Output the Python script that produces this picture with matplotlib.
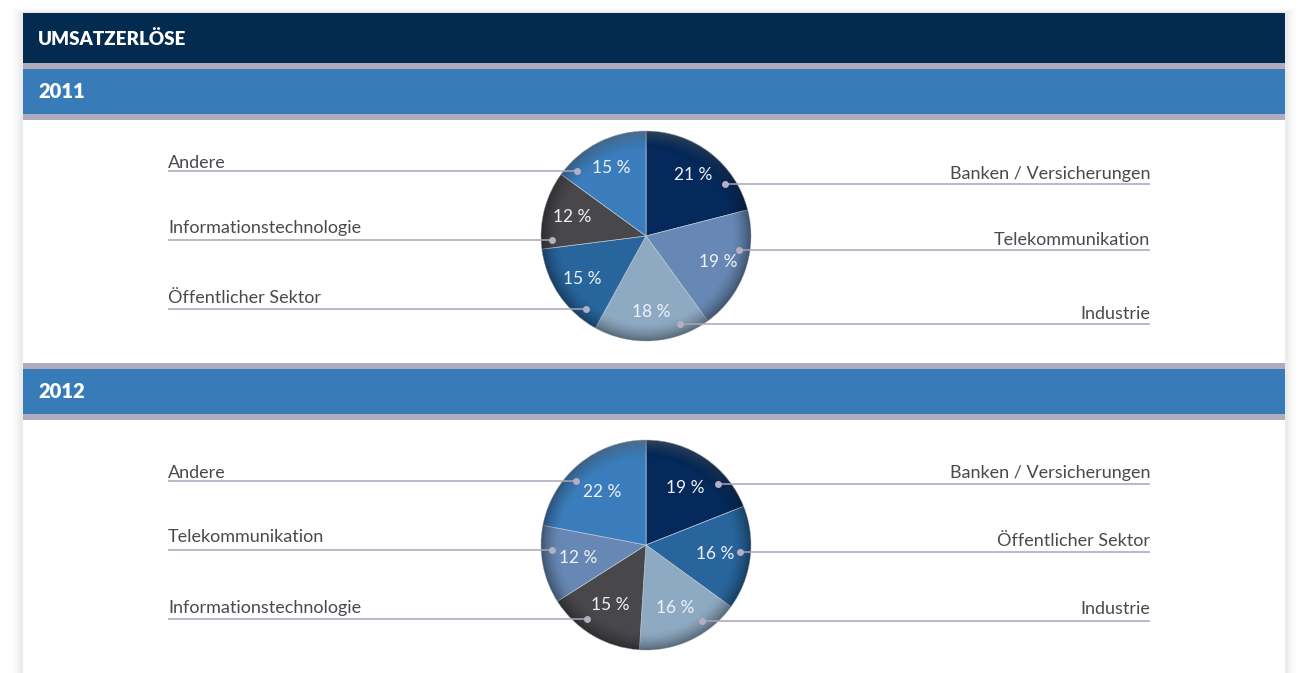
import numpy as np
import matplotlib as mpl
import matplotlib.pyplot as plt
from matplotlib.patches import Rectangle, Circle

# ---------------- data ----------------
title = 'UMSATZERLÖSE'
years = ['2011', '2012']

labels_2011 = ['Banken / Versicherungen', 'Telekommunikation', 'Industrie',
               'Öffentlicher Sektor', 'Informationstechnologie', 'Andere']
values_2011 = [21, 19, 18, 15, 12, 15]

labels_2012 = ['Banken / Versicherungen', 'Öffentlicher Sektor', 'Industrie',
               'Informationstechnologie', 'Telekommunikation', 'Andere']
values_2012 = [19, 16, 16, 15, 12, 22]

# ---------------- style ----------------
W, H = 1301, 673
navy, band, strip = '#032b50', '#377bb9', '#b0abbd'
line_col = '#aaa4bb'
txt_col = '#4a4a4a'
seg_col = {
    'Banken / Versicherungen': '#04295a',
    'Telekommunikation': '#6787b4',
    'Industrie': '#8eaac3',
    'Öffentlicher Sektor': '#27659c',
    'Informationstechnologie': '#48484b',
    'Andere': '#3b7dbc',
}
font = 'Lato'
mpl.rc('font', family=[font, 'DejaVu Sans'])

# layout (pixel coords, y downward)
pie_c = [(646, 236), (646, 545)]
pie_r = 105
pct_dist = [0.73, 0.66]
left_x, right_x = 168, 1150
# line y / text baseline y for each label
lead_y = [
    {'Andere': (171, 168), 'Informationstechnologie': (240, 233), 'Öffentlicher Sektor': (309, 303),
     'Banken / Versicherungen': (184, 179), 'Telekommunikation': (250, 245), 'Industrie': (324, 319)},
    {'Andere': (481, 478), 'Telekommunikation': (550, 542), 'Informationstechnologie': (619, 613),
     'Banken / Versicherungen': (484, 478), 'Öffentlicher Sektor': (552, 546), 'Industrie': (621, 614)},
]


def Y(y):
    return H - y


fig = plt.figure(figsize=(W / 100, H / 100), dpi=100, facecolor='white')
ax = fig.add_axes([0, 0, 1, 1])
ax.set_xlim(0, W)
ax.set_ylim(0, H)
ax.axis('off')

# card shadow
for k, a in enumerate([0.025, 0.02, 0.015, 0.01, 0.008]):
    d = k + 1.5
    ax.add_patch(Rectangle((23 - 2 * d, -20), 1262 + 4 * d, Y(13 - d) + 20,
                           fc='black', ec='none', alpha=a, zorder=0))
ax.add_patch(Rectangle((23, -20), 1262, Y(13) + 20, fc='white', ec='none', zorder=1))

# header and year bands
ax.add_patch(Rectangle((23, Y(63)), 1262, 50, fc=navy, ec='none', zorder=2))
ax.text(38, Y(39), title, color='white', fontsize=13.5, fontweight='heavy',
        va='center', ha='left', zorder=3)
for top, yr in zip([63, 363], years):
    ax.add_patch(Rectangle((23, Y(top + 57)), 1262, 57, fc=strip, ec='none', zorder=2))
    ax.add_patch(Rectangle((23, Y(top + 51)), 1262, 45, fc=band, ec='none', zorder=2))
    ax.text(38, Y(top + 28), yr, color='white', fontsize=14.5, fontweight='heavy',
            va='center', ha='left', zorder=3)

# rim shading image
n = 300
gx, gy = np.meshgrid(np.linspace(-1, 1, n), np.linspace(-1, 1, n))
rr = np.sqrt(gx ** 2 + gy ** 2)
shade = np.zeros((n, n, 4))
shade[..., 3] = 0.38 * np.clip((rr - 0.82) / 0.18, 0, 1) ** 1.6
hl = np.zeros((n, n, 4))
hl[..., :3] = 1.0
hl[..., 3] = 0.18 * np.clip((rr - 0.86) / 0.14, 0, 1) * np.clip(gy, 0, 1) ** 2

for i, (labs, vals) in enumerate([(labels_2011, values_2011), (labels_2012, values_2012)]):
    cx, cy = pie_c[i]
    wedges, _, autot = ax.pie(
        vals, colors=[seg_col[l] for l in labs], center=(cx, Y(cy)), radius=pie_r,
        startangle=90, counterclock=False, autopct='%d %%', pctdistance=pct_dist[i],
        wedgeprops=dict(edgecolor='#b8c4d2', linewidth=0.5, zorder=4),
        textprops=dict(color='#eef2f7', fontsize=12.5, zorder=6), frame=True)
    for t in autot:
        t.set_va('center')
        t.set_ha('center')
    clip = Circle((cx, Y(cy)), pie_r, transform=ax.transData)
    for img in (shade, hl):
        im = ax.imshow(img, extent=(cx - pie_r, cx + pie_r, Y(cy) - pie_r, Y(cy) + pie_r),
                       origin='lower', zorder=5, interpolation='bilinear')
        im.set_clip_path(clip)

    # leader lines
    for lab, w in zip(labs, wedges):
        ly, ty = lead_y[i][lab]
        mid = np.deg2rad((w.theta1 + w.theta2) / 2)
        right = np.cos(mid) > 0
        dy = ly - cy
        dx = np.sqrt(max((0.9 * pie_r) ** 2 - dy ** 2, 0))
        dot_x = cx + dx if right else cx - dx
        end_x = right_x if right else left_x
        ax.plot([dot_x, end_x], [Y(ly), Y(ly)], color=line_col, lw=1.1, zorder=7,
                solid_capstyle='butt')
        ax.plot(dot_x, Y(ly), 'o', color='#b5afc2', ms=4, zorder=7)
        ax.text(end_x, Y(ty), lab, color=txt_col, fontsize=13,
                ha='right' if right else 'left', va='baseline', zorder=7)

ax.set_xlim(0, W)
ax.set_ylim(0, H)
ax.set_aspect('auto')
ax.axis('off')

fig.savefig('out.png', dpi=100, facecolor='white')
